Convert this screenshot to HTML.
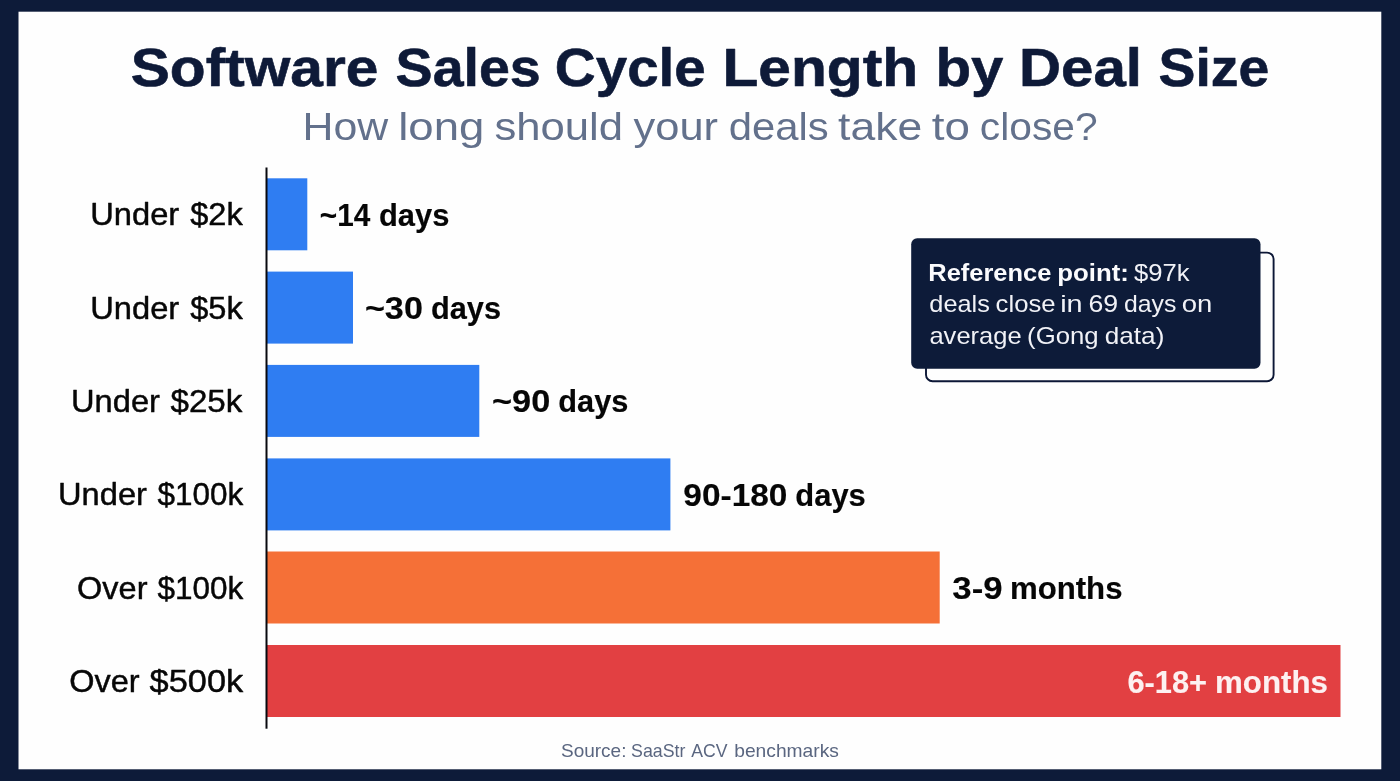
<!DOCTYPE html>
<html lang="en">
<head>
<meta charset="utf-8">
<title>Software Sales Cycle Length by Deal Size</title>
<style>
html,body{margin:0;padding:0;background:#0d1b39}
body{width:1400px;height:781px;overflow:hidden}
svg{display:block}
text{font-family:"Liberation Sans", sans-serif;white-space:pre}
.ttl{font-size:54.5px;font-weight:700;fill:#0e1a38;stroke:#0e1a38;stroke-width:0.6px;stroke-linejoin:round}
.sub{font-size:38.4px;font-weight:400;fill:#63718c}
.lab{font-size:32.0px;font-weight:400;fill:#070707;stroke:#070707;stroke-width:0.45px;stroke-linejoin:round}
.val{font-size:31.3px;font-weight:700;fill:#060606;stroke:#060606;stroke-width:0.15px;stroke-linejoin:round}
.vin{font-size:31.3px;font-weight:700;fill:#fdf1f1;stroke:#fdf1f1;stroke-width:0.15px;stroke-linejoin:round}
.cb{font-size:23.8px;font-weight:700;fill:#fbfbfd}
.cr{font-size:23.8px;font-weight:400;fill:#f1f2f7}
.src{font-size:18.4px;font-weight:400;fill:#5a6680}
</style>
</head>
<body>
<svg width="1400" height="781" viewBox="0 0 1400 781" role="img" aria-label="Software Sales Cycle Length by Deal Size">
<!-- frame -->
<rect width="1400" height="781" fill="#0d1b39"/>
<rect x="18.5" y="11.7" width="1362.8" height="757.6" fill="#fefefe"/>
<!-- bars -->
<rect x="267" y="178.3" width="40.3" height="72" fill="#2f7df2"/>
<rect x="267" y="271.6" width="86.0" height="72" fill="#2f7df2"/>
<rect x="267" y="364.9" width="212.3" height="72" fill="#2f7df2"/>
<rect x="267" y="458.4" width="403.4" height="72" fill="#2f7df2"/>
<rect x="267" y="551.5" width="672.7" height="72" fill="#f57037"/>
<rect x="267" y="645.0" width="1073.5" height="72" fill="#e24042"/>
<!-- axis -->
<rect x="265.5" y="167.5" width="2" height="561.2" fill="#08090f"/>
<!-- callout -->
<rect x="926" y="252.6" width="347.6" height="128.6" rx="6.5" fill="#fefefe" stroke="#0c1736" stroke-width="1.9"/>
<rect x="911.2" y="238.3" width="349.3" height="130.5" rx="6" fill="#0d1b39"/>
<!-- text -->
<text y="86"><tspan class="ttl" x="130.72" textLength="247.64" lengthAdjust="spacingAndGlyphs">Software</tspan> <tspan class="ttl" x="395.58" textLength="145.20" lengthAdjust="spacingAndGlyphs">Sales</tspan> <tspan class="ttl" x="554.82" textLength="150.97" lengthAdjust="spacingAndGlyphs">Cycle</tspan> <tspan class="ttl" x="722.47" textLength="195.56" lengthAdjust="spacingAndGlyphs">Length</tspan> <tspan class="ttl" x="935.50" textLength="67.96" lengthAdjust="spacingAndGlyphs">by</tspan> <tspan class="ttl" x="1018.99" textLength="123.05" lengthAdjust="spacingAndGlyphs">Deal</tspan> <tspan class="ttl" x="1158.48" textLength="110.80" lengthAdjust="spacingAndGlyphs">Size</tspan></text>
<text y="140"><tspan class="sub" x="302.56" textLength="85.64" lengthAdjust="spacingAndGlyphs">How</tspan> <tspan class="sub" x="398.24" textLength="86.14" lengthAdjust="spacingAndGlyphs">long</tspan> <tspan class="sub" x="494.46" textLength="128.57" lengthAdjust="spacingAndGlyphs">should</tspan> <tspan class="sub" x="633.60" textLength="84.48" lengthAdjust="spacingAndGlyphs">your</tspan> <tspan class="sub" x="728.72" textLength="100.02" lengthAdjust="spacingAndGlyphs">deals</tspan> <tspan class="sub" x="838.14" textLength="84.19" lengthAdjust="spacingAndGlyphs">take</tspan> <tspan class="sub" x="931.71" textLength="38.22" lengthAdjust="spacingAndGlyphs">to</tspan> <tspan class="sub" x="979.88" textLength="117.73" lengthAdjust="spacingAndGlyphs">close?</tspan></text>
<text y="225"><tspan class="lab" x="90.26" textLength="89.00" lengthAdjust="spacingAndGlyphs">Under</tspan> <tspan class="lab" x="190.20" textLength="52.49" lengthAdjust="spacingAndGlyphs">$2k</tspan></text>
<text y="226"><tspan class="val" x="319.85" textLength="50.44" lengthAdjust="spacingAndGlyphs">~14</tspan> <tspan class="val" x="378.91" textLength="70.41" lengthAdjust="spacingAndGlyphs">days</tspan></text>
<text y="319"><tspan class="lab" x="90.26" textLength="89.00" lengthAdjust="spacingAndGlyphs">Under</tspan> <tspan class="lab" x="190.20" textLength="52.49" lengthAdjust="spacingAndGlyphs">$5k</tspan></text>
<text y="319"><tspan class="val" x="364.91" textLength="57.99" lengthAdjust="spacingAndGlyphs">~30</tspan> <tspan class="val" x="430.92" textLength="70.10" lengthAdjust="spacingAndGlyphs">days</tspan></text>
<text y="412"><tspan class="lab" x="71.06" textLength="88.90" lengthAdjust="spacingAndGlyphs">Under</tspan> <tspan class="lab" x="170.50" textLength="71.87" lengthAdjust="spacingAndGlyphs">$25k</tspan></text>
<text y="412"><tspan class="val" x="492.00" textLength="58.30" lengthAdjust="spacingAndGlyphs">~90</tspan> <tspan class="val" x="558.32" textLength="70.10" lengthAdjust="spacingAndGlyphs">days</tspan></text>
<text y="505"><tspan class="lab" x="58.06" textLength="88.90" lengthAdjust="spacingAndGlyphs">Under</tspan> <tspan class="lab" x="157.40" textLength="85.78" lengthAdjust="spacingAndGlyphs">$100k</tspan></text>
<text y="506"><tspan class="val" x="683.33" textLength="104.12" lengthAdjust="spacingAndGlyphs">90-180</tspan> <tspan class="val" x="795.31" textLength="70.52" lengthAdjust="spacingAndGlyphs">days</tspan></text>
<text y="599"><tspan class="lab" x="77.09" textLength="70.36" lengthAdjust="spacingAndGlyphs">Over</tspan> <tspan class="lab" x="157.40" textLength="85.78" lengthAdjust="spacingAndGlyphs">$100k</tspan></text>
<text y="599"><tspan class="val" x="952.29" textLength="50.28" lengthAdjust="spacingAndGlyphs">3-9</tspan> <tspan class="val" x="1009.91" textLength="112.60" lengthAdjust="spacingAndGlyphs">months</tspan></text>
<text y="692"><tspan class="lab" x="69.29" textLength="70.36" lengthAdjust="spacingAndGlyphs">Over</tspan> <tspan class="lab" x="149.60" textLength="93.60" lengthAdjust="spacingAndGlyphs">$500k</tspan></text>
<text y="693"><tspan class="vin" x="1127.42" textLength="79.69" lengthAdjust="spacingAndGlyphs">6-18+</tspan> <tspan class="vin" x="1215.00" textLength="112.91" lengthAdjust="spacingAndGlyphs">months</tspan></text>
<text y="281"><tspan class="cb" x="928.26" textLength="123.11" lengthAdjust="spacingAndGlyphs">Reference</tspan> <tspan class="cb" x="1057.33" textLength="71.62" lengthAdjust="spacingAndGlyphs">point:</tspan> <tspan class="cr" x="1133.92" textLength="55.53" lengthAdjust="spacingAndGlyphs">$97k</tspan></text>
<text y="312"><tspan class="cr" x="929.34" textLength="60.51" lengthAdjust="spacingAndGlyphs">deals</tspan> <tspan class="cr" x="995.62" textLength="59.97" lengthAdjust="spacingAndGlyphs">close</tspan> <tspan class="cr" x="1060.17" textLength="22.48" lengthAdjust="spacingAndGlyphs">in</tspan> <tspan class="cr" x="1088.48" textLength="29.68" lengthAdjust="spacingAndGlyphs">69</tspan> <tspan class="cr" x="1124.06" textLength="52.38" lengthAdjust="spacingAndGlyphs">days</tspan> <tspan class="cr" x="1181.75" textLength="30.57" lengthAdjust="spacingAndGlyphs">on</tspan></text>
<text y="344"><tspan class="cr" x="929.43" textLength="92.25" lengthAdjust="spacingAndGlyphs">average</tspan> <tspan class="cr" x="1027.14" textLength="71.49" lengthAdjust="spacingAndGlyphs">(Gong</tspan> <tspan class="cr" x="1104.80" textLength="59.57" lengthAdjust="spacingAndGlyphs">data)</tspan></text>
<text y="757"><tspan class="src" x="560.97" textLength="65.47" lengthAdjust="spacingAndGlyphs">Source:</tspan> <tspan class="src" x="631.03" textLength="54.39" lengthAdjust="spacingAndGlyphs">SaaStr</tspan> <tspan class="src" x="691.30" textLength="36.29" lengthAdjust="spacingAndGlyphs">ACV</tspan> <tspan class="src" x="734.26" textLength="104.67" lengthAdjust="spacingAndGlyphs">benchmarks</tspan></text>
</svg>
</body>
</html>
